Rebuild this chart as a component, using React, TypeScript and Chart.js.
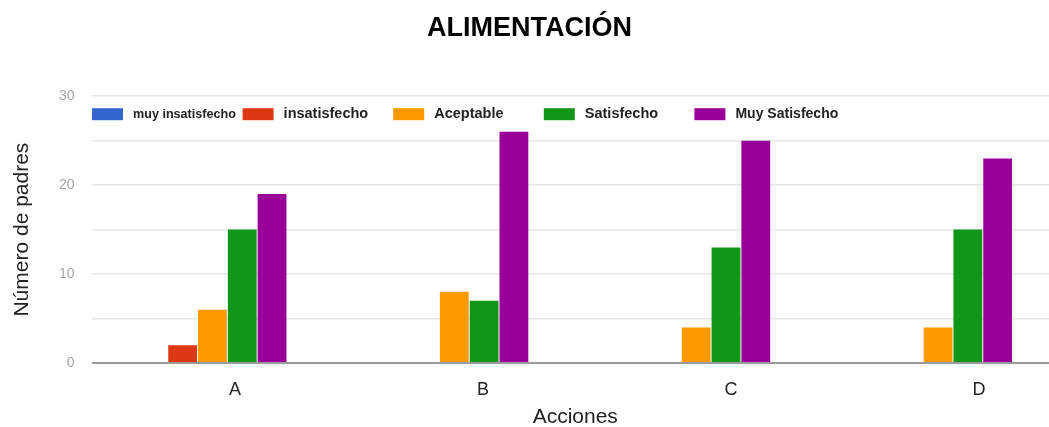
import React, { useEffect, useRef } from "react";
import { Chart, registerables } from "chart.js";

Chart.register(...registerables);

const categories = ["A", "B", "C", "D"];
const seriesNames = ["muy insatisfecho", "insatisfecho", "Aceptable", "Satisfecho", "Muy Satisfecho"];
const muyInsatisfecho = [0, 0, 0, 0];
const insatisfecho = [2, 0, 0, 0];
const aceptable = [6, 8, 4, 4];
const satisfecho = [15, 7, 13, 15];
const muySatisfecho = [19, 26, 25, 23];
const seriesColors = ["#3366cc", "#dc3912", "#ff9900", "#109618", "#990099"];
const yTickValues = [0, 10, 20, 30];

const FONT = '"Liberation Sans", Arial, Helvetica, sans-serif';

const legendPlugin = {
  id: "insideLegend",
  afterDatasetsDraw(chart: any) {
    const ctx = chart.ctx;
    const { left, top } = chart.chartArea;
    ctx.save();
    chart.data.datasets.forEach((ds: any, i: number) => {
      const x = left + 0.5 + i * 150.6;
      const y = top + 12;
      ctx.fillStyle = ds.backgroundColor;
      ctx.fillRect(x, y, 31, 12);
      let size = 14.5;
      ctx.font = `bold ${size}px ${FONT}`;
      const maxW = 103;
      const w = ctx.measureText(ds.label).width;
      if (w > maxW) {
        size = (size * maxW) / w;
        ctx.font = `bold ${size}px ${FONT}`;
      }
      ctx.fillStyle = "#222222";
      ctx.textBaseline = "middle";
      ctx.textAlign = "left";
      ctx.fillText(ds.label, x + 41, y + 6);
    });
    ctx.restore();
  },
};

export default function App() {
  const ref = useRef<HTMLCanvasElement>(null);
  useEffect(() => {
    if (!ref.current) return;
    const series = [muyInsatisfecho, insatisfecho, aceptable, satisfecho, muySatisfecho];
    const chart = new Chart(ref.current, {
      type: "bar",
      data: {
        labels: categories,
        datasets: series.map((vals, i) => ({
          label: seriesNames[i],
          data: vals,
          backgroundColor: seriesColors[i],
          borderWidth: 0,
          categoryPercentage: 0.616,
          barPercentage: 0.967,
          xAxisID: "x",
        })),
      },
      options: {
        responsive: false,
        animation: false,
        layout: { padding: { left: 0, right: 28, top: 0, bottom: 0 } },
        plugins: {
          legend: { display: false },
          tooltip: { enabled: false },
          title: {
            display: true,
            text: "ALIMENTACIÓN",
            color: "#000000",
            font: { family: FONT, size: 27, weight: "bold" },
            padding: { top: 12, bottom: 51.8 },
          },
        },
        scales: {
          x: {
            type: "category",
            display: false,
            grid: { display: false },
          },
          x2: {
            type: "linear",
            position: "bottom",
            offset: false,
            min: -0.5786,
            max: 3.3226,
            afterBuildTicks: (scale: any) => {
              scale.ticks = categories.map((_, i) => ({ value: i }));
            },
            afterFit: (scale: any) => {
              scale.height = 67;
            },
            grid: { display: false, drawTicks: false, offset: false },
            border: { display: false },
            ticks: {
              autoSkip: false,
              maxRotation: 0,
              padding: 16,
              color: "#222222",
              font: { family: FONT, size: 18 },
              callback: (v: any) => categories[Number(v)] ?? "",
            },
            title: {
              display: true,
              text: "Acciones",
              color: "#222222",
              font: { family: FONT, size: 21 },
              padding: { top: 5, bottom: 0 },
            },
          },
          y: {
            min: 0,
            max: 30,
            afterBuildTicks: (scale: any) => {
              const t: any[] = [];
              for (let v = 0; v <= 30; v += 5) t.push({ value: v });
              scale.ticks = t;
            },
            afterFit: (scale: any) => {
              scale.width = 91.5;
            },
            border: { display: false },
            grid: {
              drawTicks: false,
              color: (c: any) => (c.tick && c.tick.value === 0 ? "#9a9a9a" : "#e6e6e6"),
              lineWidth: (c: any) => (c.tick && c.tick.value === 0 ? 2 : 1.5),
            },
            ticks: {
              padding: 17,
              color: "#a6a6a6",
              font: { family: FONT, size: 14 },
              callback: (v: any) => (yTickValues.includes(Number(v)) ? String(v) : ""),
            },
            title: {
              display: true,
              text: "Número de padres",
              color: "#222222",
              font: { family: FONT, size: 21 },
              padding: { top: 9.4, bottom: 0 },
            },
          },
        },
      },
      plugins: [legendPlugin],
    });
    return () => chart.destroy();
  }, []);
  return (
    <div
      style={{
        position: "absolute",
        left: 0,
        top: 0,
        width: 1049,
        height: 427,
        overflow: "hidden",
        background: "#ffffff",
      }}
    >
      <canvas ref={ref} width={1087} height={430} style={{ display: "block" }} />
    </div>
  );
}
